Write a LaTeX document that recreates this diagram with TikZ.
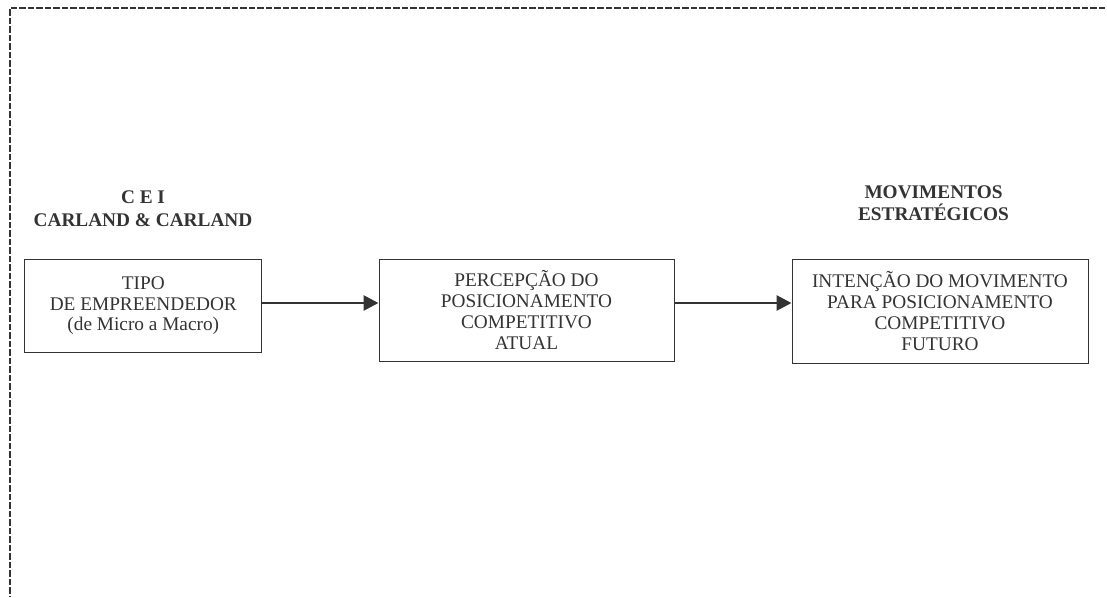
\documentclass[tikz,border=0pt]{standalone}
\usepackage{fontspec}
\setmainfont{Liberation Serif}
\usetikzlibrary{arrows.meta}
\definecolor{ink}{HTML}{333333}
\begin{document}
\begin{tikzpicture}[x=1pt,y=-1pt,
  every node/.style={text=ink, font=\fontsize{19.3}{20.8}\selectfont},
  box/.style={draw=ink, line width=1pt, align=center, inner sep=0pt},
  head/.style={align=center, inner sep=0pt, font=\fontsize{19.3}{22.5}\selectfont\bfseries},
  conn/.style={draw=ink, line width=2.8pt, -{Triangle[length=15pt,width=15pt]}},
  frame/.style={draw=ink, line width=1.6pt, dash pattern=on 6.5pt off 2pt}]
\useasboundingbox (0,0) rectangle (1107,597);
\coordinate (ftr) at (1105,8);
\coordinate (ftl) at (9.8,8);
\coordinate (fbl) at (9.8,597);
\draw[frame] (ftr) -- (ftl) -- (fbl);
\node[box, minimum width=237pt, minimum height=93pt] (b1) at (143.3,305.8) {TIPO\\DE EMPREENDEDOR\\(de Micro a Macro)};
\node[box, minimum width=295pt, minimum height=102pt] (b2) at (526.5,310) {PERCEPÇÃO DO\\POSICIONAMENTO\\COMPETITIVO\\ATUAL};
\node[box, minimum width=296pt, minimum height=104pt] (b3) at (940,311) {INTENÇÃO DO MOVIMENTO\\PARA POSICIONAMENTO\\COMPETITIVO\\FUTURO};
\node[head] (h1) at (143,208.8) {C E I\\CARLAND \& CARLAND};
\node[head] (h2) at (933.5,203.2) {MOVIMENTOS\\ESTRATÉGICOS};
\draw[conn] (b1.east |- 0,303) -- (b2.west |- 0,303);
\draw[conn] (b2.east |- 0,303) -- (b3.west |- 0,303);
\end{tikzpicture}
\end{document}
